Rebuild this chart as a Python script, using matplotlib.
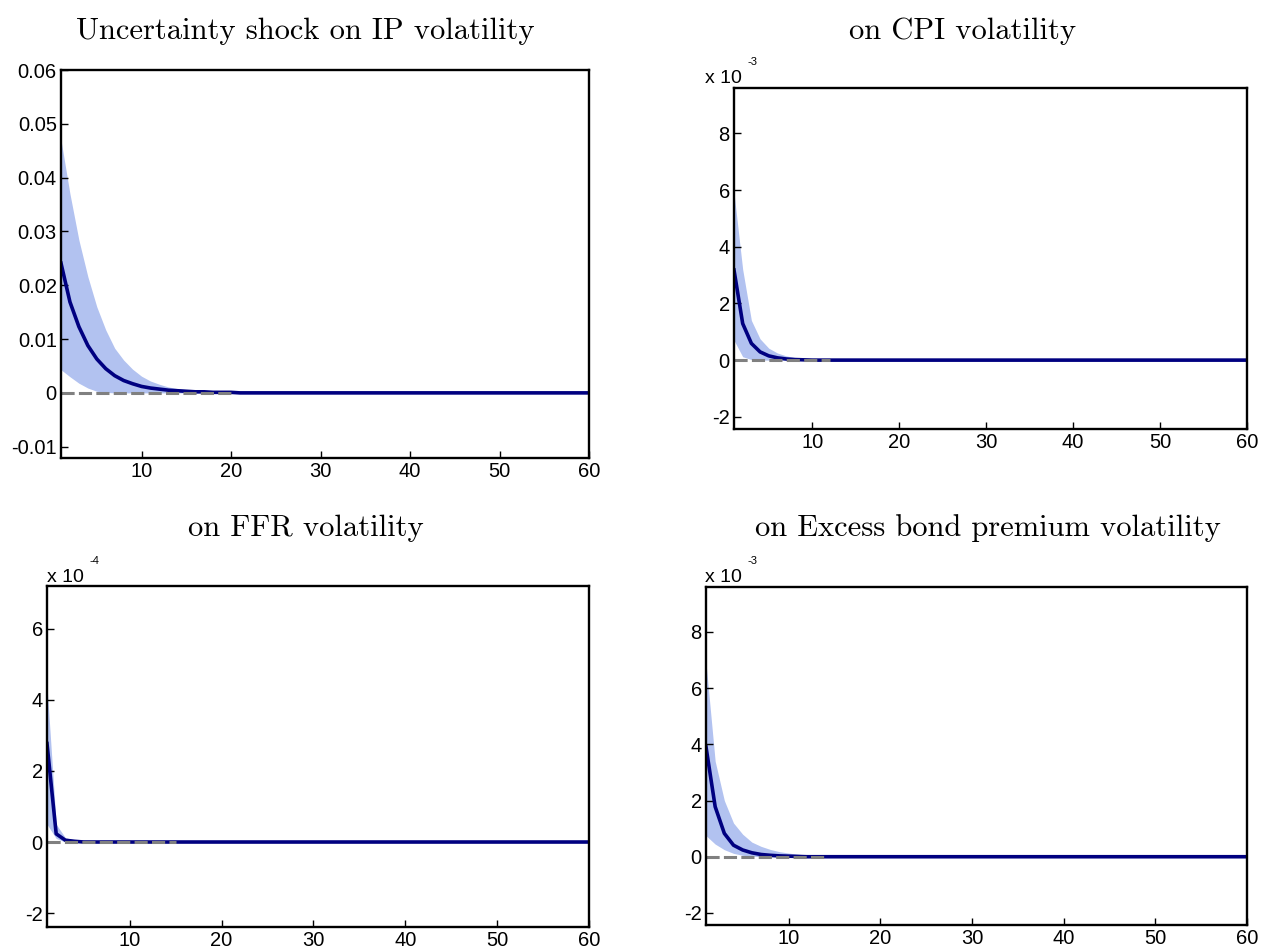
import matplotlib
matplotlib.use('Agg')
import matplotlib.pyplot as plt

W, H = 1261, 951

horizon = list(range(1, 61))

# IP volatility (raw units)
ip_med = [0.0241, 0.0169, 0.0123, 0.0088, 0.0063, 0.0045, 0.0032, 0.0023, 0.0017, 0.0012,
          0.0009, 0.0007, 0.0005, 0.0004, 0.0003, 0.0002, 0.0002, 0.0001, 0.0001, 0.0001] + [0.0] * 40
ip_hi = [0.0470, 0.0370, 0.0284, 0.0216, 0.0160, 0.0117, 0.0083, 0.0061, 0.0044, 0.0031,
         0.0022, 0.0016, 0.0011, 0.0008, 0.0006, 0.0004, 0.0003, 0.0002, 0.0001, 0.0001] + [0.0] * 40
ip_lo = [0.0043, 0.0030, 0.0018, 0.0009, 0.0003, 0.0001] + [0.0] * 54

# CPI volatility (x 10^-3)
cpi_med = [3.18, 1.29, 0.59, 0.29, 0.15, 0.08, 0.04, 0.02, 0.01] + [0.0] * 51
cpi_hi = [5.9, 3.2, 1.4, 0.75, 0.42, 0.25, 0.15, 0.09, 0.05, 0.03, 0.02, 0.01] + [0.0] * 48
cpi_lo = [0.7, 0.12, 0.02] + [0.0] * 57

# FFR volatility (x 10^-4)
ffr_med = [2.77, 0.23, 0.05, 0.02] + [0.0] * 56
ffr_hi = [4.4, 0.5, 0.12, 0.06, 0.03, 0.01] + [0.0] * 54
ffr_lo = [0.5, 0.1] + [0.0] * 58

# Excess bond premium volatility (x 10^-3)
ebp_med = [3.91, 1.78, 0.83, 0.41, 0.24, 0.14, 0.08, 0.05, 0.03, 0.02, 0.01] + [0.0] * 49
ebp_hi = [6.9, 3.4, 2.0, 1.2, 0.8, 0.52, 0.37, 0.26, 0.18, 0.13, 0.09, 0.06, 0.04, 0.02] + [0.0] * 46
ebp_lo = [0.75, 0.45, 0.25, 0.12, 0.05, 0.02] + [0.0] * 54

titles = ['Uncertainty shock on IP volatility', 'on CPI volatility',
          'on FFR volatility', 'on Excess bond premium volatility']

fig = plt.figure(figsize=(W / 100, H / 100), dpi=100)
tick_font = 'Liberation Sans'


def px_axes(left, right, top, bottom):
    return fig.add_axes([left / W, 1 - bottom / H, (right - left) / W, (bottom - top) / H])


def draw(ax, med, lo, hi, ylim, yticks, ylabels, zero_end):
    ax.fill_between(horizon, lo, hi, color='#b2c2f0', linewidth=0)
    ax.plot(horizon, med, color='#000080', linewidth=2.6)
    ax.plot([1, zero_end], [0, 0], color='#808080', linewidth=2.2, dashes=(4.3, 1.4))
    ax.set_xlim(1, 60)
    ax.set_ylim(*ylim)
    ax.set_xticks([10, 20, 30, 40, 50, 60])
    ax.set_xticklabels(['10', '20', '30', '40', '50', '60'], fontfamily=tick_font, fontsize=14.5)
    ax.set_yticks(yticks)
    ax.set_yticklabels(ylabels, fontfamily=tick_font, fontsize=14.5)
    ax.tick_params(direction='in', length=5, width=1, top=False, right=False, pad=3)
    for s in ax.spines.values():
        s.set_linewidth(1.7)


ax1 = px_axes(61, 589, 70, 458)
draw(ax1, ip_med, ip_lo, ip_hi, (-0.0121, 0.06),
     [-0.01, 0, 0.01, 0.02, 0.03, 0.04, 0.05, 0.06],
     ['-0.01', '0', '0.01', '0.02', '0.03', '0.04', '0.05', '0.06'], 20)

ax2 = px_axes(734, 1247, 88, 429)
draw(ax2, cpi_med, cpi_lo, cpi_hi, (-2.43, 9.6),
     [-2, 0, 2, 4, 6, 8], ['-2', '0', '2', '4', '6', '8'], 12)

ax3 = px_axes(47, 589, 586, 927)
draw(ax3, ffr_med, ffr_lo, ffr_hi, (-2.39, 7.2),
     [-2, 0, 2, 4, 6], ['-2', '0', '2', '4', '6'], 15)

ax4 = px_axes(706, 1247, 587, 925)
draw(ax4, ebp_med, ebp_lo, ebp_hi, (-2.43, 9.6),
     [-2, 0, 2, 4, 6, 8], ['-2', '0', '2', '4', '6', '8'], 14)

# titles (placed like the original figure, not centred on the axes)
for txt, x, y in [(titles[0], 305, 39), (titles[1], 963, 39),
                  (titles[2], 306, 536), (titles[3], 988, 536)]:
    fig.text(x / W, 1 - y / H, txt, ha='center', va='baseline',
             fontfamily='cmr10', fontsize=22)

# exponent labels
for x, y, e in [(705, 83, '-3'), (47, 582, '-4'), (705, 582, '-3')]:
    fig.text(x / W, 1 - y / H, 'x 10', ha='left', va='baseline',
             fontfamily=tick_font, fontsize=14)
    fig.text((x + 42) / W, 1 - (y - 18) / H, e, ha='left', va='baseline',
             fontfamily=tick_font, fontsize=8)

fig.savefig('out.png', dpi=100)
